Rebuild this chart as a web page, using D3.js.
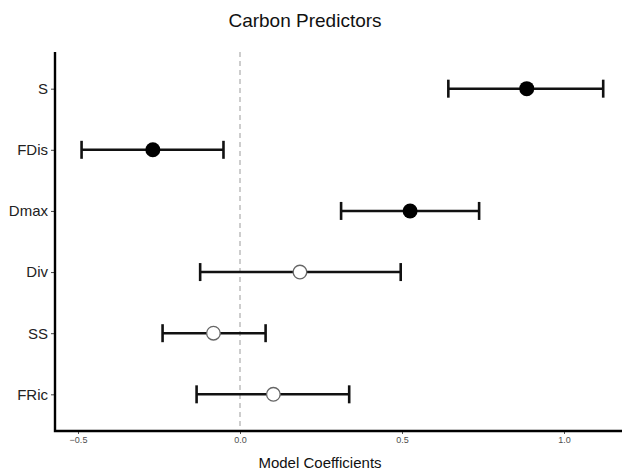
<!DOCTYPE html>
<html>
<head>
<meta charset="utf-8">
<script src="https://cdn.jsdelivr.net/npm/d3@7"></script>
<style>
  body { margin: 0; background: #fff; }
  text { font-family: "Liberation Sans", Arial, sans-serif; }
</style>
</head>
<body>
<div id="chart"></div>
<script>
const predictors = ["S", "FDis", "Dmax", "Div", "SS", "FRic"];
const estimate = [0.885, -0.269, 0.525, 0.185, -0.082, 0.103];
const lower = [0.643, -0.489, 0.312, -0.123, -0.239, -0.134];
const upper = [1.121, -0.051, 0.738, 0.496, 0.079, 0.337];
const significant = [true, true, true, false, false, false];
const xTicks = [-0.5, 0.0, 0.5, 1.0];

const width = 622;
const height = 472;
const plotLeft = 55, plotRight = 622, plotTop = 52, plotBottom = 431;

const svg = d3.select("#chart")
  .append("svg")
  .attr("width", width)
  .attr("height", height);

const x = d3.scaleLinear()
  .domain([-0.571, 1.179])
  .range([plotLeft, plotRight]);

const y = d3.scalePoint()
  .domain(predictors)
  .range([plotTop, plotBottom])
  .padding(0.6);

// zero reference line
svg.append("line")
  .attr("x1", x(0)).attr("x2", x(0))
  .attr("y1", plotTop).attr("y2", plotBottom)
  .style("stroke", "#b3b3b3")
  .style("stroke-width", 1.3)
  .style("stroke-dasharray", "5,4");

// x axis
const xAxis = svg.append("g")
  .attr("transform", `translate(0,${plotBottom})`)
  .call(d3.axisBottom(x).tickValues(xTicks).tickFormat(d3.format(".1f")).tickSize(3).tickPadding(3));
xAxis.select(".domain").remove();
xAxis.selectAll(".tick line").style("stroke", "#555");
xAxis.selectAll(".tick text").style("font-size", "9px").style("fill", "#4d4d4d");

// y axis
const yAxis = svg.append("g")
  .attr("transform", `translate(${plotLeft},0)`)
  .call(d3.axisLeft(y).tickSize(4).tickPadding(3));
yAxis.select(".domain").remove();
yAxis.selectAll(".tick line").style("stroke", "#444");
yAxis.selectAll(".tick text").style("font-size", "15px").style("fill", "#222");

// axis lines
svg.append("path")
  .attr("d", `M${plotLeft},${plotTop}V${plotBottom}H${plotRight}`)
  .style("fill", "none")
  .style("stroke", "#000")
  .style("stroke-width", 2.4);

const rows = predictors.map((p, i) => ({
  name: p, est: estimate[i], lo: lower[i], hi: upper[i], sig: significant[i]
}));

const bars = svg.append("g").selectAll("g")
  .data(rows)
  .enter()
  .append("g");

bars.append("line")
  .attr("x1", d => x(d.lo)).attr("x2", d => x(d.hi))
  .attr("y1", d => y(d.name)).attr("y2", d => y(d.name))
  .style("stroke", "#111").style("stroke-width", 2.6);

bars.append("line")
  .attr("x1", d => x(d.lo)).attr("x2", d => x(d.lo))
  .attr("y1", d => y(d.name) - 9).attr("y2", d => y(d.name) + 9)
  .style("stroke", "#111").style("stroke-width", 2.6);

bars.append("line")
  .attr("x1", d => x(d.hi)).attr("x2", d => x(d.hi))
  .attr("y1", d => y(d.name) - 9).attr("y2", d => y(d.name) + 9)
  .style("stroke", "#111").style("stroke-width", 2.6);

bars.append("circle")
  .attr("cx", d => x(d.est))
  .attr("cy", d => y(d.name))
  .attr("r", d => d.sig ? 7.5 : 6.8)
  .style("fill", d => d.sig ? "#000" : "#fff")
  .style("stroke", d => d.sig ? "#000" : "#666")
  .style("stroke-width", d => d.sig ? 0 : 1.3);

// title
svg.append("text")
  .attr("x", 305).attr("y", 27)
  .attr("text-anchor", "middle")
  .style("font-size", "19px")
  .style("fill", "#111")
  .text("Carbon Predictors");

// x axis title
svg.append("text")
  .attr("x", 320).attr("y", 468)
  .attr("text-anchor", "middle")
  .style("font-size", "15px")
  .style("fill", "#111")
  .text("Model Coefficients");
</script>
</body>
</html>
